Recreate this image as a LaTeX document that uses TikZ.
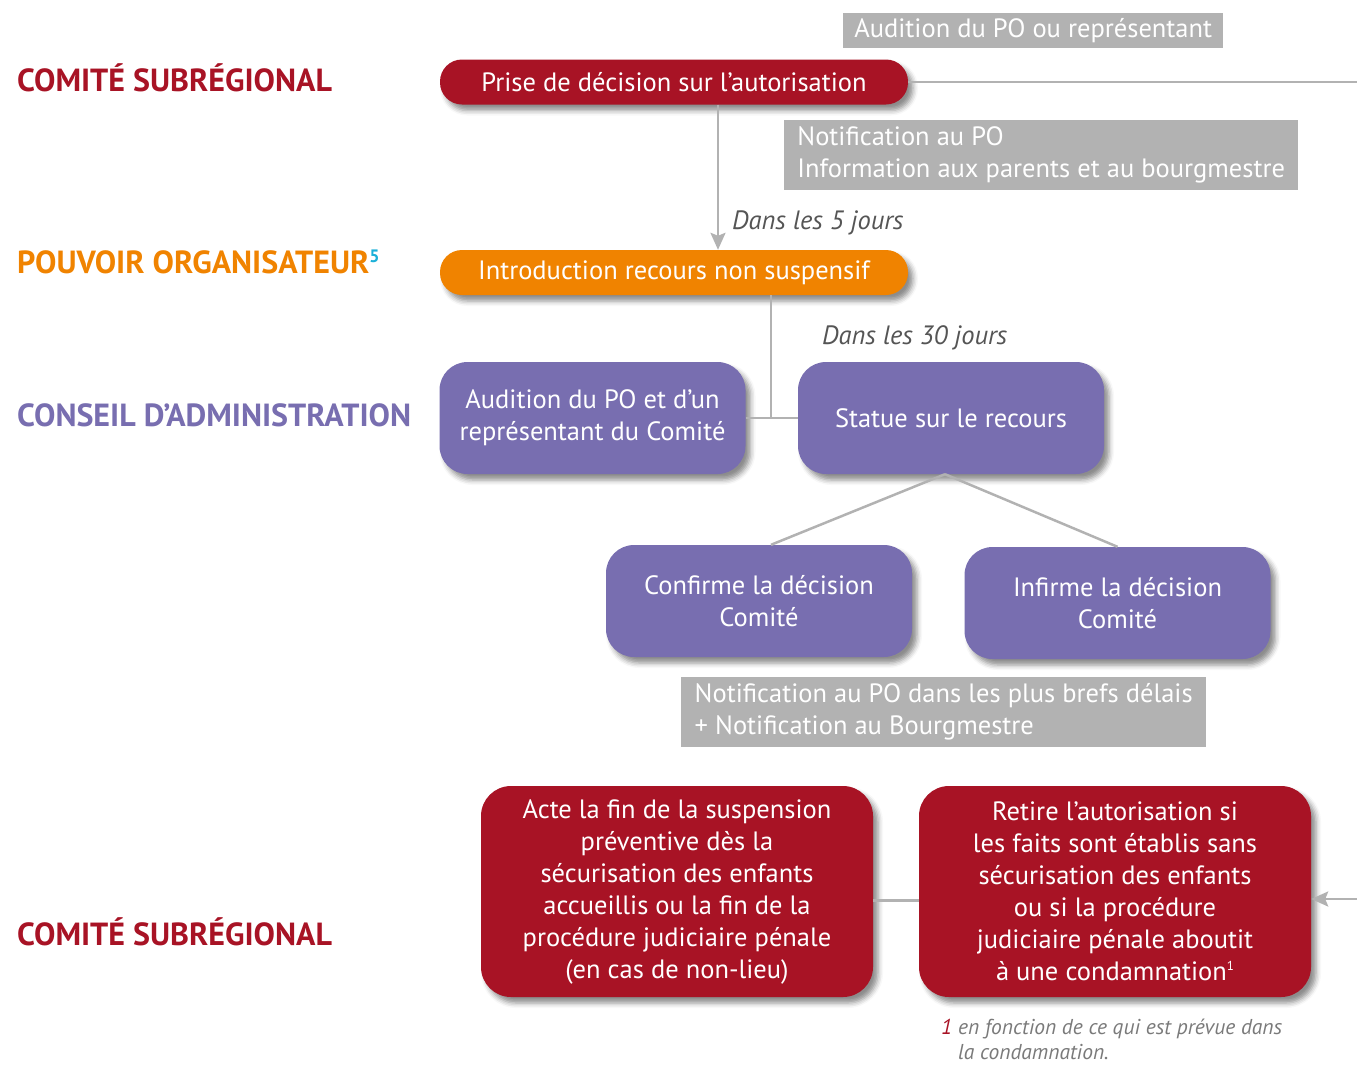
\documentclass[tikz,border=0pt]{standalone}
\usepackage{fontspec}
\setmainfont{PT Sans}
\usetikzlibrary{shadows.blur,arrows.meta}

\definecolor{cred}{HTML}{A81325}
\definecolor{corange}{HTML}{F08300}
\definecolor{cpurple}{HTML}{786EB0}
\definecolor{cgray}{HTML}{B2B2B2}
\definecolor{ctxt}{HTML}{555555}
\definecolor{cnote}{HTML}{7A7A7A}
\definecolor{ccyan}{HTML}{1BB0D8}

\newcommand\boxfont{\fontsize{26.5}{32}\selectfont}
\newcommand\headfont{\fontsize{32}{36}\selectfont\bfseries}
\newcommand\delayfont{\fontsize{26.5}{30}\selectfont\itshape}
\newcommand\fnfont{\fontsize{21.5}{25}\selectfont\itshape}

\begin{document}
\begin{tikzpicture}[x=1pt,y=-1pt,
  box/.style={rectangle, text=white, align=center, font=\boxfont, inner sep=0pt,
    blur shadow={shadow xshift=5pt, shadow yshift=-6pt, shadow blur radius=5pt, shadow opacity=45}},
  pill/.style={box, rounded corners=22pt, minimum width=468pt, minimum height=45pt},
  card/.style={box, rounded corners=28pt, minimum width=306pt, minimum height=112pt, fill=cpurple},
  bigcard/.style={box, rounded corners=30pt, minimum width=392pt, minimum height=211pt, fill=cred},
  note/.style={rectangle, fill=cgray, text=white, font=\boxfont, align=left, anchor=north west, inner sep=0pt},
  conn/.style={draw=cgray, line width=2.5pt},
  tip/.style={-{Stealth[length=17pt,width=15pt,inset=3pt]}},
  head/.style={anchor=base west, font=\headfont, inner sep=0pt},
  delay/.style={anchor=base west, font=\delayfont, text=ctxt, inner sep=0pt}
]
\useasboundingbox (0,0) rectangle (1357,1066);

% level labels
\node[head, text=cred]    (lvl1) at (17,91)  {COMITÉ SUBRÉGIONAL};
\node[head, text=corange] (lvl2) at (17,273) {POUVOIR ORGANISATEUR\raisebox{11pt}{\fontsize{18}{18}\selectfont\color{ccyan}5}};
\node[head, text=cpurple] (lvl3) at (17,426) {CONSEIL D’ADMINISTRATION};
\node[head, text=cred]    (lvl4) at (17,945) {COMITÉ SUBRÉGIONAL};

% gray notes
\node[note, minimum width=380pt, minimum height=35pt] (n1) at (843,13) {Audition du PO ou représentant};
\node[note, minimum width=514pt, minimum height=70pt] (n2) at (784,120) {Notification au PO\\Information aux parents et au bourgmestre};
\node[note, minimum width=525pt, minimum height=70pt] (n3) at (681,677) {Notification au PO dans les plus brefs délais\\+ Notification au Bourgmestre};

% process boxes
\node[pill, fill=cred]    (dec)   at (674,82) {Prise de décision sur l’autorisation};
\node[pill, fill=corange] (intro) at (674,272.5)  {Introduction recours non suspensif};
\node[card] (aud)  at (592.5,418) {Audition du PO et d’un\\représentant du Comité};
\node[card] (stat) at (951,418)   {Statue sur le recours};
\node[card] (conf) at (759,601)   {Confirme la décision\\Comité};
\node[card] (inf)  at (1117.5,603) {Infirme la décision\\Comité};
\node[bigcard] (acte)   at (677,891.5)  {Acte la fin de la suspension\\préventive dès la\\sécurisation des enfants\\accueillis ou la fin de la\\procédure judiciaire pénale\\(en cas de non-lieu)};
\node[bigcard] (retire) at (1115,891.5) {Retire l’autorisation si\\les faits sont établis sans\\sécurisation des enfants\\ou si la procédure\\judiciaire pénale aboutit\\à une condamnation\raisebox{10pt}{\fontsize{13}{13}\selectfont 1}};

% delays
\node[delay] (d5)  at (732,229) {Dans les 5 jours};
\node[delay] (d30) at (822,344) {Dans les 30 jours};

% footnote (base anchor sits on the last line)
\node[anchor=base west, font=\fnfont, text=cnote, align=left, inner sep=0pt] (fn) at (941,1059)
  {{\color{cred}1} en fonction de ce qui est prévue dans\\\hphantom{1} la condamnation.};

% connectors
\coordinate (colA) at (718,0);
\coordinate (colB) at (771,0);
\coordinate (rimTop) at (1357,82);
\coordinate (rimBot) at (1357,899);
\coordinate (fork) at (945,0);

\draw[conn] (dec.east) -- (rimTop);
\draw[conn, tip] (colA |- dec.south) -- (colA |- intro.north);
\draw[conn] (colB |- intro.south) -- (colB |- aud.east);
\draw[conn] (aud.east) -- (stat.west);
\draw[conn] (fork |- stat.south) -- ([xshift=12pt]conf.north);
\draw[conn] (fork |- stat.south) -- (inf.north);
\draw[conn] ([yshift=-9pt]acte.east) -- ([yshift=-9pt]retire.west);
\draw[conn, tip] (rimBot) -- (rimBot -| retire.east);
\end{tikzpicture}
\end{document}
